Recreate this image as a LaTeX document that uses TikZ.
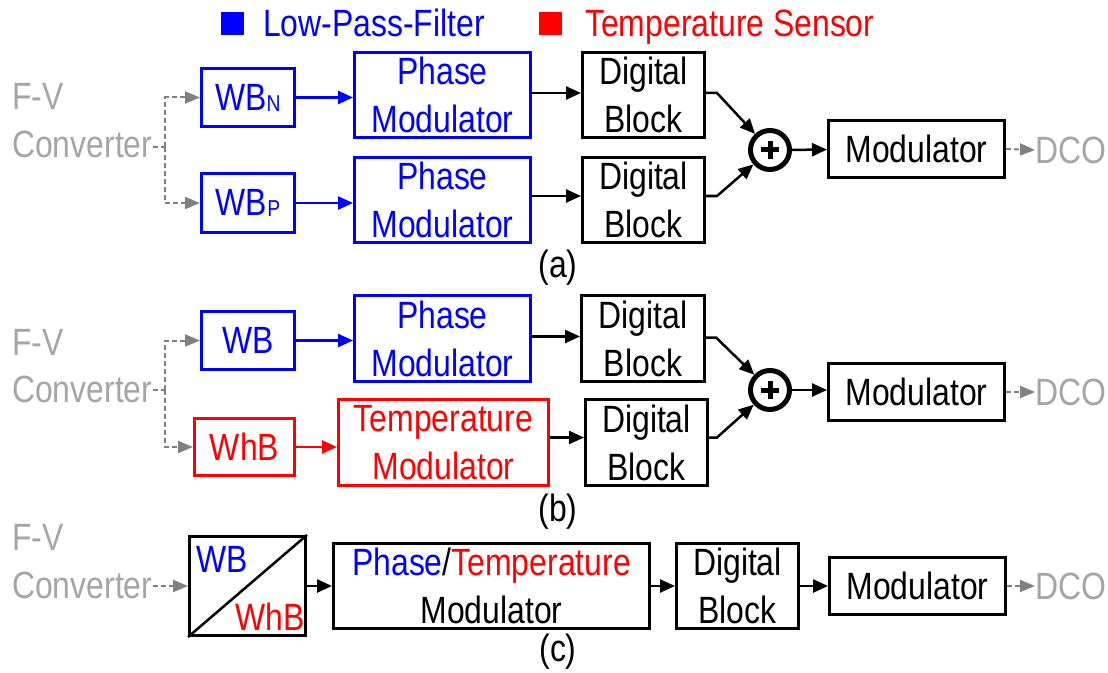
\documentclass[tikz,border=0pt]{standalone}
\usepackage{fontspec}
\setmainfont{Liberation Sans}[FakeStretch=0.84]
\usetikzlibrary{arrows.meta}
\definecolor{fvgray}{RGB}{165,165,165}
\definecolor{dgray}{RGB}{128,128,128}
\definecolor{pblue}{RGB}{0,0,255}
\definecolor{pred}{RGB}{255,0,0}
\begin{document}
\begin{tikzpicture}[x=1bp,y=-1bp,
  every node/.style={font=\fontsize{38bp}{48bp}\selectfont, inner sep=0pt},
  box/.style={draw, line width=3bp, align=center},
  bbox/.style={box, draw=pblue, text=pblue},
  rbox/.style={box, draw=pred, text=pred},
  arr/.style={line width=2.5bp, -{Triangle[length=15bp,width=13bp]}},
  dline/.style={dgray, line width=2bp, dash pattern=on 5bp off 3bp},
  darr/.style={dline, -{Triangle[length=15bp,width=12bp]}},
  gtext/.style={text=fvgray, anchor=base west},
  plusc/.style={circle, draw, line width=5bp, minimum size=39bp},
]
\useasboundingbox (0,0) rectangle (1108,673);
\newcommand{\smallsub}[1]{\raisebox{-1bp}{\fontsize{23bp}{23bp}\selectfont #1}}
\newcommand{\plussign}[1]{\draw[line width=5bp] ([xshift=-9bp]#1.center) -- ([xshift=9bp]#1.center); \draw[line width=5bp] ([yshift=-9bp]#1.center) -- ([yshift=9bp]#1.center);}

% legend
\node[fill=pblue, minimum size=23bp] (lsq1) at (232,24) {};
\node[text=pblue, anchor=base west] (ltx1) at (263,37) {Low-Pass-Filter};
\node[fill=pred, minimum size=23bp] (lsq2) at (550,24) {};
\node[text=pred, anchor=base west] (ltx2) at (585,37) {Temperature Sensor};

% ---------------- (a)
\node[gtext] (fva) at (12,110) {F-V};
\node[gtext] (cva) at (12,158) {Converter};
\coordinate (ja) at (165,147);
\node[bbox, minimum width=93bp, minimum height=58bp] (wbn) at (248,97.5) {WB\smallsub{N}};
\node[bbox, minimum width=93bp, minimum height=58bp] (wbp) at (248,203) {WB\smallsub{P}};
\node[bbox, minimum width=176bp, minimum height=85bp] (pma1) at (442.5,95) {Phase\\Modulator};
\node[bbox, minimum width=176bp, minimum height=85bp] (pma2) at (442.5,200) {Phase\\Modulator};
\node[box, minimum width=122bp, minimum height=85bp] (dba1) at (643.5,95) {Digital\\Block};
\node[box, minimum width=122bp, minimum height=85bp] (dba2) at (643.5,200) {Digital\\Block};
\node[plusc] (plusa) at (770,150) {};
\plussign{plusa}
\node[box, minimum width=176bp, minimum height=57bp] (moda) at (916.5,149) {Modulator};
\node[text=fvgray, anchor=west] (dcoa) at (1035,150) {DCO};
\node (la) at (558,268) {(a)};

\draw[dline] (cva.east |- ja) -- (ja);
\draw[darr] (ja) |- (wbn);
\draw[darr] (ja) |- (wbp);
\draw[arr, pblue] (wbn.east) -- (wbn.east -| pma1.west);
\draw[arr, pblue] (wbp.east) -- (wbp.east -| pma2.west);
\draw[arr] ([yshift=2bp]pma1.east) -- ([yshift=2bp]dba1.west);
\draw[arr] ([yshift=4bp]pma2.east) -- ([yshift=4bp]dba2.west);
\draw[arr] ([yshift=2bp]dba1.east) -- ++(11,0) -- (plusa);
\draw[arr] ([yshift=4bp]dba2.east) -- ++(11,0) -- (plusa);
\draw[arr] (plusa) -- (moda);
\draw[darr] (moda.east) -- (dcoa.west);

% ---------------- (b)
\node[gtext] (fvb) at (12,355) {F-V};
\node[gtext] (cvb) at (12,402) {Converter};
\coordinate (jb) at (165,390);
\node[bbox, minimum width=93bp, minimum height=58bp] (wb) at (248,340.5) {WB};
\node[rbox, minimum width=100bp, minimum height=57bp] (whb) at (244.5,447) {WhB};
\node[bbox, minimum width=176bp, minimum height=86bp] (pmb) at (442.5,338.5) {Phase\\Modulator};
\node[rbox, minimum width=210bp, minimum height=86bp] (tmb) at (443.5,442.5) {Temperature\\Modulator};
\node[box, minimum width=123bp, minimum height=86bp] (dbb1) at (643,338.5) {Digital\\Block};
\node[box, minimum width=122bp, minimum height=86bp] (dbb2) at (646.5,442.5) {Digital\\Block};
\node[plusc] (plusb) at (770,390) {};
\plussign{plusb}
\node[box, minimum width=176bp, minimum height=57bp] (modb) at (916.5,392) {Modulator};
\node[text=fvgray, anchor=west] (dcob) at (1035,392) {DCO};
\node (lb) at (558,512) {(b)};

\draw[dline] (cvb.east |- jb) -- (jb);
\draw[darr] (jb) |- (wb);
\draw[darr] (jb) |- (whb);
\draw[arr, pblue] (wb.east) -- (wb.east -| pmb.west);
\draw[arr, pred] (whb.east) -- (whb.east -| tmb.west);
\draw[arr] ([yshift=2bp]pmb.east) -- ([yshift=2bp]pmb.east -| dbb1.west);
\draw[arr] ([yshift=5bp]tmb.east) -- ([yshift=5bp]tmb.east -| dbb2.west);
\draw[arr] ([yshift=1bp]dbb1.east) -- ++(10,0) -- (plusb);
\draw[arr] ([yshift=5bp]dbb2.east) -- ++(8,0) -- (plusb);
\draw[arr] (plusb) -- (plusb -| modb.west);
\draw[darr] (modb.east) -- (dcob.west);

% ---------------- (c)
\node[gtext] (fvc) at (12,550) {F-V};
\node[gtext] (cvc) at (12,598) {Converter};
\node[box, minimum width=116bp, minimum height=99bp] (wbox) at (247.5,586) {};
\draw[line width=2.5bp] (wbox.south west) -- (wbox.north east);
\node[text=pblue, anchor=base west] (wbt) at (196,572) {WB};
\node[text=pred, anchor=base east] (whbt) at (305,630) {WhB};
\node[box, minimum width=316bp, minimum height=85bp] (ptm) at (491.5,586) {\textcolor{pblue}{Phase}/\textcolor{pred}{Temperature}\\Modulator};
\node[box, minimum width=122bp, minimum height=85bp] (dbc) at (737.5,586) {Digital\\Block};
\node[box, minimum width=176bp, minimum height=57bp] (modc) at (917.5,586) {Modulator};
\node[text=fvgray, anchor=west] (dcoc) at (1035,586) {DCO};
\node (lc) at (558,652) {(c)};

\draw[darr] (cvc.east |- wbox.west) -- (wbox.west);
\draw[arr] (wbox.east) -- (ptm.west);
\draw[arr] (ptm.east) -- (dbc.west);
\draw[arr] (dbc.east) -- (modc.west);
\draw[darr] (modc.east) -- (dcoc.west);
\end{tikzpicture}
\end{document}
